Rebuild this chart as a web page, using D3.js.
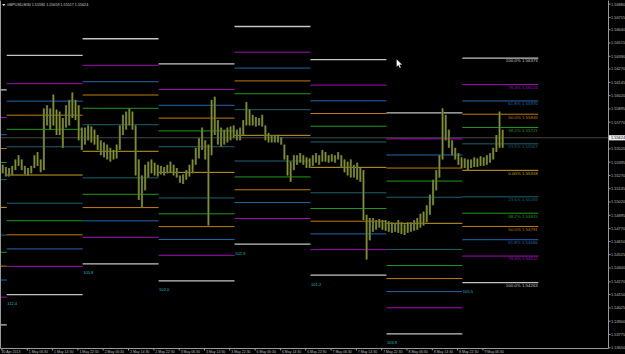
<!DOCTYPE html>
<html>
<head>
<meta charset="utf-8">
<script src="https://cdn.jsdelivr.net/npm/d3@7"></script>
<style>
  html, body { margin: 0; padding: 0; background: #000; }
  svg { display: block; }
  text { font-family: "Liberation Sans", Arial, sans-serif; }
</style>
</head>
<body>
<script>
// GBPUSD M30, 30 Apr - 9 May 2013, daily fibo levels

const header = "GBPUSD,M30  1.55590 1.55659 1.55517 1.55624";
const lastPrice = 1.55624;

// hourly high / low (two M30 bars per entry)
const hourHigh = [
  1.5537, 1.5535, 1.5534, 1.5536, 1.5542, 1.5546, 1.5542, 1.5536, 1.5534, 1.5536,
  1.5546, 1.5549, 1.5542, 1.5590, 1.5593, 1.5590, 1.5603, 1.5589, 1.5587, 1.5581,
  1.5593, 1.5598, 1.5605, 1.5598, 1.5593, 1.5572, 1.5572, 1.5574, 1.5573, 1.5570,
  1.5565, 1.5560, 1.5558, 1.5556, 1.5553, 1.5551, 1.5556, 1.5574, 1.5584, 1.5587,
  1.5590, 1.5587, 1.5574, 1.5542, 1.5527, 1.5537, 1.5540, 1.5542, 1.5539, 1.5537,
  1.5536, 1.5535, 1.5537, 1.5540, 1.5537, 1.5534, 1.5527, 1.5528, 1.5532, 1.5537,
  1.5542, 1.5553, 1.5562, 1.5572, 1.5560, 1.5556, 1.5598, 1.5601, 1.5579, 1.5572,
  1.5570, 1.5572, 1.5573, 1.5574, 1.5570, 1.5572, 1.5579, 1.5596, 1.5589, 1.5584,
  1.5582, 1.5581, 1.5584, 1.5574, 1.5567, 1.5565, 1.5565, 1.5564, 1.5563, 1.5556,
  1.5546, 1.5540, 1.5546, 1.5546, 1.5548, 1.5546, 1.5544, 1.5543, 1.5546, 1.5548,
  1.5546, 1.5551, 1.5549, 1.5546, 1.5547, 1.5546, 1.5549, 1.5546, 1.5542, 1.5540,
  1.5542, 1.5537, 1.5539, 1.5534, 1.5532, 1.5490, 1.5487, 1.5487, 1.5485, 1.5486,
  1.5485, 1.5485, 1.5484, 1.5483, 1.5482, 1.5485, 1.5483, 1.5481, 1.5483, 1.5483,
  1.5485, 1.5487, 1.5491, 1.5493, 1.5499, 1.5509, 1.5523, 1.5532, 1.5546, 1.5590,
  1.5584, 1.5570, 1.5560, 1.5553, 1.5548, 1.5544, 1.5543, 1.5542, 1.5542, 1.5544,
  1.5543, 1.5545, 1.5544, 1.5546, 1.5548, 1.5553, 1.5565, 1.5587, 1.5570
];
const hourLow = [
  1.5529, 1.5526, 1.5526, 1.5527, 1.5532, 1.5536, 1.5532, 1.5528, 1.5527, 1.5529,
  1.5534, 1.5536, 1.5530, 1.5532, 1.5574, 1.5570, 1.5574, 1.5565, 1.5565, 1.5553,
  1.5572, 1.5574, 1.5581, 1.5579, 1.5560, 1.5551, 1.5556, 1.5560, 1.5558, 1.5556,
  1.5551, 1.5546, 1.5544, 1.5542, 1.5540, 1.5542, 1.5543, 1.5551, 1.5565, 1.5570,
  1.5574, 1.5570, 1.5527, 1.5504, 1.5497, 1.5513, 1.5525, 1.5529, 1.5527, 1.5526,
  1.5528, 1.5527, 1.5529, 1.5530, 1.5527, 1.5525, 1.5520, 1.5519, 1.5523, 1.5526,
  1.5529, 1.5537, 1.5543, 1.5551, 1.5542, 1.5480, 1.5546, 1.5565, 1.5556, 1.5554,
  1.5556, 1.5558, 1.5560, 1.5562, 1.5560, 1.5560, 1.5565, 1.5574, 1.5574, 1.5574,
  1.5573, 1.5574, 1.5573, 1.5560, 1.5558, 1.5558, 1.5558, 1.5558, 1.5556, 1.5542,
  1.5527, 1.5521, 1.5532, 1.5537, 1.5539, 1.5537, 1.5534, 1.5534, 1.5536, 1.5539,
  1.5537, 1.5540, 1.5540, 1.5539, 1.5540, 1.5539, 1.5542, 1.5534, 1.5530, 1.5527,
  1.5525, 1.5525, 1.5523, 1.5521, 1.5485, 1.5448, 1.5466, 1.5474, 1.5476, 1.5478,
  1.5476, 1.5475, 1.5474, 1.5473, 1.5474, 1.5473, 1.5472, 1.5471, 1.5473, 1.5474,
  1.5475, 1.5476, 1.5478, 1.5480, 1.5483, 1.5490, 1.5499, 1.5513, 1.5525, 1.5542,
  1.5560, 1.5553, 1.5546, 1.5542, 1.5537, 1.5534, 1.5534, 1.5532, 1.5534, 1.5535,
  1.5535, 1.5536, 1.5536, 1.5537, 1.5539, 1.5542, 1.5549, 1.5553, 1.5553
];

// daily fibo sets: first M30 bar index of each day, 0% price and range in pips
const dayStart = [-45, 3, 51, 99, 147, 195, 243, 291];
const dayEnd   = [3, 51, 99, 147, 195, 243, 291, 339];
const dayBase  = [1.54970, 1.55274, 1.55497, 1.55299, 1.55647, 1.55346, 1.54820, 1.55318];
const dayRangePips = [110.5, 112.4, 105.8, 102.0, 102.3, 101.2, 103.9, 105.5];

const fibLevels = [1, 0.764, 0.618, 0.5, 0.382, 0.236, 0, -0.236, -0.382, -0.5, -0.618, -0.764, -1];
const fibNames  = ["100.0%", "76.4%", "61.8%", "50.0%", "38.2%", "23.6%", "0.00%",
                   "23.6%", "38.2%", "50.0%", "61.8%", "76.4%", "100.0%"];
const fibColors = {
  "1": "#c4c4c4", "0.764": "#a010b8", "0.618": "#2468b0", "0.5": "#c07c10",
  "0.382": "#1e9a1e", "0.236": "#1d6470", "0": "#c8a028"
};

// time axis: bar index and label
const timeTicks = [0, 16, 32, 48, 64, 80, 96, 112, 128, 144, 160, 176, 192, 208, 224, 240, 256, 272, 288, 304];
const timeLabels = ["30 Apr 2013", "1 May 06:30", "1 May 14:30", "1 May 22:30", "2 May 06:30", "2 May 14:30",
  "2 May 22:30", "3 May 06:30", "3 May 14:30", "3 May 22:30", "6 May 06:30", "6 May 14:30", "6 May 22:30",
  "7 May 06:30", "7 May 14:30", "7 May 22:30", "8 May 06:30", "8 May 14:30", "8 May 22:30", "9 May 06:30"];

// the tick under the last price tag is hidden
const priceTicks = [1.56880, 1.56755, 1.56640, 1.56515, 1.56390, 1.56270, 1.56145, 1.56020, 1.55895,
  1.55770, 1.55520, 1.55395, 1.55270, 1.55145, 1.55020, 1.54895, 1.54770, 1.54650, 1.54525,
  1.54400, 1.54270, 1.54150, 1.54025, 1.53900, 1.53775, 1.53650];

const W = 625, H = 354;
const plotRight = 608.5, plotBottom = 348.5;

const svg = d3.select('body')
  .append('svg')
  .attr('width', W)
  .attr('height', H);

svg.append('rect').attr('width', W).attr('height', H).attr('fill', '#000');

const x = d3.scaleLinear().domain([0, 383]).range([1.95, 607.9]);
const y = d3.scaleLinear().domain([1.5365, 1.5688]).range([347.8, 4.15]);

svg.append('clipPath').attr('id', 'plot')
  .append('rect').attr('x', 1).attr('y', 1).attr('width', plotRight - 1).attr('height', plotBottom - 1);

const plot = svg.append('g').attr('clip-path', 'url(#plot)');

// current price line
plot.append('line')
  .attr('x1', 0).attr('x2', plotRight)
  .attr('y1', y(lastPrice)).attr('y2', y(lastPrice))
  .attr('stroke', '#474747')
  .attr('stroke-width', 1);

// fibo lines for every day
dayStart.forEach((s, d) => {
  const R = dayRangePips[d] / 10000;
  const g = plot.append('g').attr('class', 'fibo');
  fibLevels.forEach(f => {
    const key = String(Math.abs(f));
    g.append('line')
      .attr('x1', x(s)).attr('x2', x(dayEnd[d]))
      .attr('y1', y(dayBase[d] + f * R)).attr('y2', y(dayBase[d] + f * R))
      .attr('stroke', fibColors[key])
      .attr('stroke-width', Math.abs(f) === 1 ? 1.3 : 1);
  });
  if (s >= 0) {
    g.append('text')
      .attr('x', x(s) + 0.5)
      .attr('y', y(dayBase[d] - R) + 10.5)
      .attr('fill', '#22b8c8')
      .style('font-size', '4.1px')
      .text(dayRangePips[d].toFixed(1));
  }
});

// level captions on the last day
const last = dayStart.length - 1;
const lastR = dayRangePips[last] / 10000;
plot.append('g').selectAll('text')
  .data(fibLevels)
  .enter()
  .append('text')
  .attr('x', x(dayEnd[last]) - 0.5)
  .attr('y', f => y(dayBase[last] + f * lastR) + 4.3)
  .attr('text-anchor', 'end')
  .attr('fill', f => fibColors[String(Math.abs(f))])
  .style('font-size', '4.4px')
  .text((f, i) => fibNames[i] + '  ' + (dayBase[last] + f * lastR).toFixed(5));

// price bars
const bars = plot.append('g').attr('class', 'bars');
hourHigh.forEach((hi, k) => {
  const cx = x(2 * k + 0.5);
  bars.append('rect')
    .attr('x', cx - 1.1).attr('width', 2.2)
    .attr('y', y(hi)).attr('height', Math.max(1, y(hourLow[k]) - y(hi)))
    .attr('fill', '#57621f');
  bars.append('line')
    .attr('x1', cx).attr('x2', cx)
    .attr('y1', y(hi)).attr('y2', y(hourLow[k]))
    .attr('stroke', '#9aa64c')
    .attr('stroke-width', 0.7);
});

// frame
svg.append('path')
  .attr('d', `M0.5,0.5V${plotBottom}H${plotRight}V0.5`)
  .attr('fill', 'none')
  .attr('stroke', '#9a9a9a')
  .attr('stroke-width', 1);

// price axis
const ya = svg.append('g').attr('class', 'y-axis');
priceTicks.forEach(p => {
  ya.append('line')
    .attr('x1', plotRight).attr('x2', plotRight + 2)
    .attr('y1', y(p)).attr('y2', y(p))
    .attr('stroke', '#9a9a9a');
  ya.append('text')
    .attr('x', plotRight + 2.5)
    .attr('y', y(p) + 1.4)
    .attr('fill', '#bdbdbd')
    .style('font-size', '3.9px')
    .text(p.toFixed(5));
});

// last price tag
ya.append('rect')
  .attr('x', plotRight + 0.5).attr('y', y(lastPrice) - 2.6)
  .attr('width', 16).attr('height', 5.2)
  .attr('fill', '#f0f0f0');
ya.append('text')
  .attr('x', plotRight + 2.5)
  .attr('y', y(lastPrice) + 1.4)
  .attr('fill', '#000')
  .style('font-size', '3.9px')
  .text(lastPrice.toFixed(5));

// time axis
const xa = svg.append('g').attr('class', 'x-axis');
timeTicks.forEach((t, i) => {
  xa.append('line')
    .attr('x1', x(t)).attr('x2', x(t))
    .attr('y1', plotBottom).attr('y2', plotBottom + 2)
    .attr('stroke', '#9a9a9a');
  xa.append('text')
    .attr('x', i === 0 ? 1.5 : x(t) + 1.5)
    .attr('y', 353.3)
    .attr('fill', '#bdbdbd')
    .style('font-size', '3.5px')
    .text(timeLabels[i]);
});

// header
svg.append('path').attr('d', 'M2,4 L5.5,4 L3.75,6.2 Z').attr('fill', '#d0d0d0');
svg.append('text')
  .attr('x', 7).attr('y', 6.4)
  .attr('fill', '#cfcfcf')
  .style('font-size', '3.7px')
  .text(header);

// mouse pointer
svg.append('path')
  .attr('d', 'M396.5,59 L396.5,67 L398.4,65.3 L399.8,68.2 L401,67.6 L399.7,64.8 L402.2,64.8 Z')
  .attr('fill', '#fff')
  .attr('stroke', '#000')
  .attr('stroke-width', 0.3);
</script>
</body>
</html>
